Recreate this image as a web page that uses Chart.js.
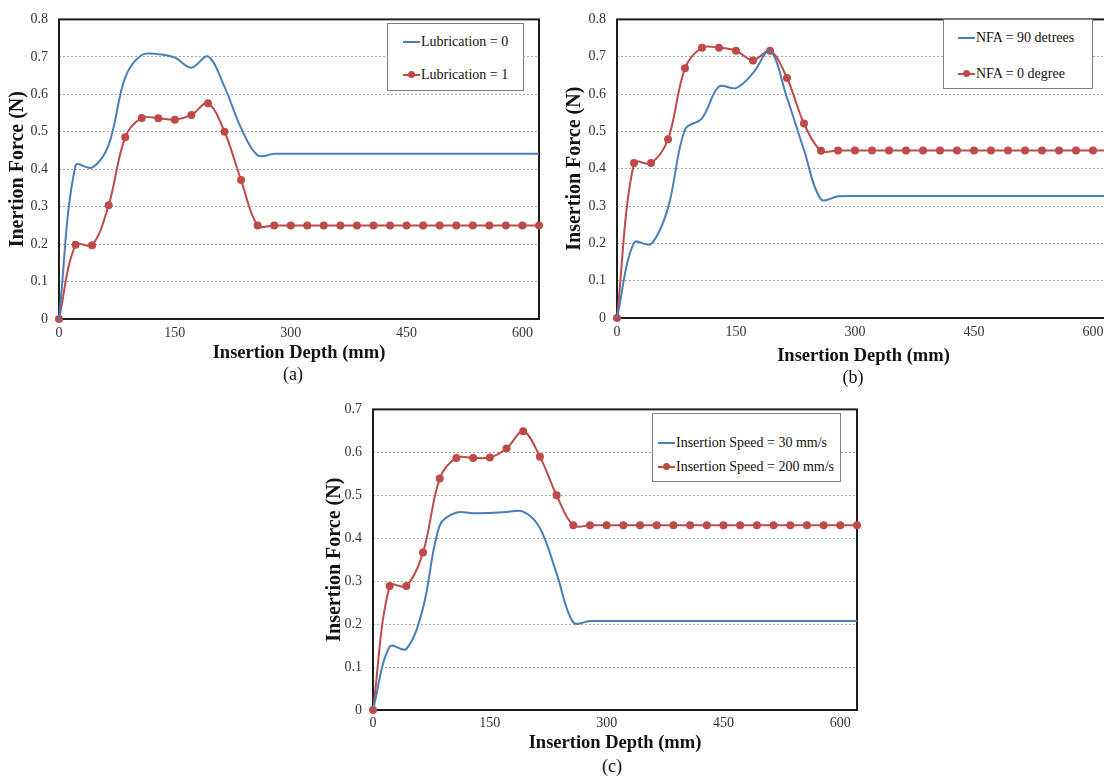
<!DOCTYPE html>
<html>
<head>
<meta charset="utf-8">
<script src="https://cdn.jsdelivr.net/npm/chart.js@4.4.1/dist/chart.umd.min.js"></script>
<style>
  html, body { margin: 0; padding: 0; background: #fff; }
  body { position: relative; width: 1104px; height: 782px; overflow: hidden; font-family: 'Liberation Serif', 'Times New Roman', serif; }
  canvas { position: absolute; }
  .caption { position: absolute; font-size: 18px; color: #111; transform: translate(-50%, -50%); }
  .legend { position: absolute; background: #fff; border: 1px solid #7f7f7f; box-sizing: border-box; }
  .legend .item { position: absolute; font-size: 14px; color: #111; white-space: nowrap; transform: translateY(-50%); display: flex; align-items: center; }
  .legend .sw { position: relative; display: inline-block; width: 17px; height: 2px; margin-right: 1px; }
  .legend .sw i { position: absolute; left: 5px; top: -3px; width: 7px; height: 7px; border-radius: 50%; }
</style>
</head>
<body>
<canvas id="chart-a" width="560" height="364" style="left:0;top:0"></canvas>
<canvas id="chart-b" width="573" height="367" style="left:558px;top:0"></canvas>
<canvas id="chart-c" width="564" height="364" style="left:314px;top:390px"></canvas>

<div class="caption" style="left:293px;top:374px">(a)</div>
<div class="caption" style="left:853px;top:377px">(b)</div>
<div class="caption" style="left:612px;top:766px">(c)</div>

<script>
/* ── DATA ── */
// x categories: one reading every ~21.4 mm, labelled every 7th point
const depthLabels = ['0', '', '', '', '', '', '', '150', '', '', '', '', '', '', '300',
                     '', '', '', '', '', '', '450', '', '', '', '', '', '', '600', ''];

// (a) lubrication
const lubNames = ['Lubrication = 0', 'Lubrication = 1'];
const lub0 = [0, 0.41, 0.404, 0.465, 0.645, 0.705, 0.707, 0.698, 0.671, 0.701, 0.62, 0.51, 0.437, 0.441, 0.441,
              0.441, 0.441, 0.441, 0.441, 0.441, 0.441, 0.441, 0.441, 0.441, 0.441, 0.441, 0.441, 0.441, 0.441, 0.441];
const lub1 = [0, 0.198, 0.197, 0.304, 0.485, 0.537, 0.536, 0.532, 0.545, 0.576, 0.50, 0.371, 0.25, 0.25, 0.25,
              0.25, 0.25, 0.25, 0.25, 0.25, 0.25, 0.25, 0.25, 0.25, 0.25, 0.25, 0.25, 0.25, 0.25, 0.25];

// (b) needle face angle
const nfaNames = ['NFA = 90 detrees', 'NFA = 0 degree'];
const nfa90 = [0, 0.202, 0.198, 0.295, 0.505, 0.535, 0.62, 0.616, 0.656, 0.716, 0.59, 0.45, 0.318, 0.326, 0.327,
               0.327, 0.327, 0.327, 0.327, 0.327, 0.327, 0.327, 0.327, 0.327, 0.327, 0.327, 0.327, 0.327, 0.327, 0.327];
const nfa0 = [0, 0.415, 0.415, 0.479, 0.669, 0.724, 0.724, 0.716, 0.690, 0.716, 0.643, 0.521, 0.448, 0.449, 0.449,
              0.449, 0.449, 0.449, 0.449, 0.449, 0.449, 0.449, 0.449, 0.449, 0.449, 0.449, 0.449, 0.449, 0.449, 0.449];

// (c) insertion speed
const speedNames = ['Insertion Speed = 30 mm/s', 'Insertion Speed = 200 mm/s'];
const speed30 = [0, 0.148, 0.142, 0.238, 0.43, 0.46, 0.458, 0.459, 0.461, 0.462, 0.424, 0.318, 0.204, 0.207, 0.207,
                 0.207, 0.207, 0.207, 0.207, 0.207, 0.207, 0.207, 0.207, 0.207, 0.207, 0.207, 0.207, 0.207, 0.207, 0.207];
const speed200 = [0, 0.289, 0.289, 0.367, 0.539, 0.587, 0.587, 0.588, 0.609, 0.649, 0.590, 0.50, 0.43, 0.43, 0.43,
                  0.43, 0.43, 0.43, 0.43, 0.43, 0.43, 0.43, 0.43, 0.43, 0.43, 0.43, 0.43, 0.43, 0.43, 0.43];

const BLUE = '#4a7ebb';
const RED  = '#be4b48';
const SERIF = "'Liberation Serif', 'Times New Roman', serif";

/* ── plot frame (Excel style black box) ── */
const framePlugin = {
  id: 'frame',
  beforeDatasetsDraw(chart) {
    const { ctx, chartArea: a } = chart;
    ctx.save();
    ctx.strokeStyle = '#1e1e1e';
    ctx.lineWidth = 2;
    ctx.strokeRect(a.left, a.top, a.right - a.left, a.bottom - a.top);
    ctx.restore();
  }
};

function makeChart(id, blue, red, yMax, yTitle, lay) {
  const ctx = document.getElementById(id).getContext('2d');
  return new Chart(ctx, {
    type: 'line',
    data: {
      labels: depthLabels,
      datasets: [
        { data: blue, borderColor: BLUE, borderWidth: 2, pointRadius: 0, tension: 0.35, clip: false },
        { data: red, borderColor: RED, backgroundColor: RED, borderWidth: 2, pointRadius: 4,
          pointBorderWidth: 0, pointBackgroundColor: RED, tension: 0.35, clip: false },
      ],
    },
    options: {
      responsive: false, animation: false,
      layout: { padding: { top: lay.top, right: lay.right, left: 0, bottom: 0 } },
      plugins: { legend: { display: false }, tooltip: { enabled: false } },
      scales: {
        x: {
          grid: { display: false, drawTicks: false },
          border: { display: false },
          ticks: { autoSkip: false, maxRotation: 0, padding: lay.xPad, color: '#333',
                   font: { family: SERIF, size: 14 } },
          title: { display: true, text: 'Insertion Depth (mm)', color: '#111', padding: 0,
                   font: { family: SERIF, size: 18.5, weight: 'bold' } },
          afterFit: s => { s.height = lay.xH; },
        },
        y: {
          min: 0, max: yMax,
          grid: { color: '#a6a6a6', lineWidth: 1, drawTicks: false },
          border: { display: false, dash: [2, 2] },
          ticks: { stepSize: 0.1, padding: 11, color: '#333', font: { family: SERIF, size: 14 },
                   callback: v => String(Number(v.toFixed(1))) },
          title: { display: true, text: yTitle, color: '#111', padding: { top: lay.yT, bottom: 0 },
                   font: { family: SERIF, size: 20, weight: 'bold' } },
          afterFit: s => { s.width = 59; },
        },
      },
    },
    plugins: [framePlugin],
  });
}

function makeLegend(names, box) {
  const el = document.createElement('div');
  el.className = 'legend';
  el.style.cssText = `left:${box.left}px;top:${box.top}px;width:${box.w}px;height:${box.h}px;`;
  el.innerHTML = names.map((n, i) => `
    <div class="item" style="top:${box.rows[i]}px;left:${box.pad}px">
      <span class="sw" style="background:${i ? RED : BLUE}">${i ? `<i style="background:${RED}"></i>` : ''}</span>${n}
    </div>`).join('');
  document.body.appendChild(el);
}

makeChart('chart-a', lub0, lub1, 0.8, 'Inertion Force (N)', { top: 11, right: 21, xH: 45, xPad: 6, yT: 6 });
makeChart('chart-b', nfa90, nfa0, 0.8, 'Insertion Force (N)', { top: 7, right: 21, xH: 49, xPad: 6, yT: 5 });
makeChart('chart-c', speed30, speed200, 0.7, 'Insertion Force (N)', { top: 12, right: 21, xH: 44, xPad: 5, yT: 9 });

makeLegend(lubNames,   { left: 387, top: 23,  w: 137, h: 68, pad: 15, rows: [18, 51] });
makeLegend(nfaNames,   { left: 943, top: 19,  w: 150, h: 70, pad: 14, rows: [18, 54] });
makeLegend(speedNames, { left: 652, top: 413, w: 189, h: 69, pad: 5,  rows: [29, 53] });
</script>
</body>
</html>
